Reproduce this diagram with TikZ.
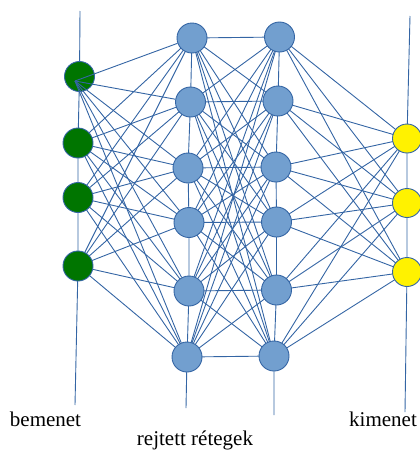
\documentclass[tikz,border=0pt]{standalone}
\usepackage{fontspec}
\setmainfont{Liberation Serif}
\usetikzlibrary{backgrounds}
\definecolor{edgeblue}{HTML}{3465A4}
\definecolor{nodeblue}{HTML}{729FCF}
\definecolor{ingreen}{HTML}{007500}
\begin{document}
\begin{tikzpicture}[x=1pt,y=-1pt,
  conn/.style={draw=edgeblue, line width=0.9pt},
  neuron/.style={circle, draw=edgeblue, line width=0.9pt, minimum size=30pt, inner sep=0pt},
  hid/.style={neuron, fill=nodeblue},
  inp/.style={neuron, fill=ingreen},
  outp/.style={neuron, fill=yellow, minimum size=29pt},
  lbl/.style={font=\fontsize{21}{25}\selectfont, anchor=base, inner sep=0pt}]
\useasboundingbox (0,0) rectangle (420,450);
% input nodes
\node[inp] (g1) at (79.5,76.5) {};
\node[inp] (g2) at (78,143) {};
\node[inp] (g3) at (78,197.5) {};
\node[inp] (g4) at (78,266) {};
% hidden layer 1
\node[hid] (h1) at (192,38) {};
\node[hid] (h2) at (190.5,102) {};
\node[hid] (h3) at (188,168) {};
\node[hid] (h4) at (189,222.5) {};
\node[hid] (h5) at (189,291) {};
\node[hid] (h6) at (187,357) {};
% hidden layer 2
\node[hid] (k1) at (279.5,37) {};
\node[hid] (k2) at (278,101) {};
\node[hid] (k3) at (276,167) {};
\node[hid] (k4) at (276.5,222) {};
\node[hid] (k5) at (276.5,290) {};
\node[hid] (k6) at (274,356) {};
% outputs
\node[outp] (o1) at (407,138.5) {};
\node[outp] (o2) at (407,203) {};
\node[outp] (o3) at (407,272) {};
% free ends
\coordinate (gtop) at (80,11);
\coordinate (gbot) at (75,405);
\coordinate (ytop) at (410,16);
\coordinate (ybot) at (405,412);
\coordinate (hbot) at (186,408);
\coordinate (kbot) at (274,415);
\coordinate (g1p) at (75,81);
\begin{pgfonlayer}{background}
  \draw[conn] (gtop) -- (g1.center) -- (g2.center) -- (g3.center) -- (g4.center) -- (gbot);
  \draw[conn] (ytop) -- (o1.center) -- (o2.center) -- (o3.center) -- (ybot);
  \draw[conn] (h1.center) -- (h2.center) -- (h3.center) -- (h4.center) -- (h5.center) -- (h6.center) -- (hbot);
  \draw[conn] (k1.center) -- (k2.center) -- (k3.center) -- (k4.center) -- (k5.center) -- (k6.center) -- (kbot);
  \foreach \i in {2,3,4} {
    \foreach \j in {1,...,6} {
      \draw[conn] (g\i.center) -- (h\j.center);
    }
  }
  \foreach \i in {1,...,6} {
    \foreach \j in {1,...,6} {
      \draw[conn] (h\i.center) -- (k\j.center);
    }
    \foreach \j in {1,2,3} {
      \draw[conn] (k\i.center) -- (o\j.center);
    }
  }
\end{pgfonlayer}
\foreach \j in {1,...,6} {
  \draw[conn] (g1p) -- (h\j);
}
% labels
\node[lbl] (lin) at (45.5,426) {bemenet};
\node[lbl] (lhid) at (195,445) {rejtett rétegek};
\node[lbl] (lout) at (383,426) {kimenet};
\end{tikzpicture}
\end{document}
